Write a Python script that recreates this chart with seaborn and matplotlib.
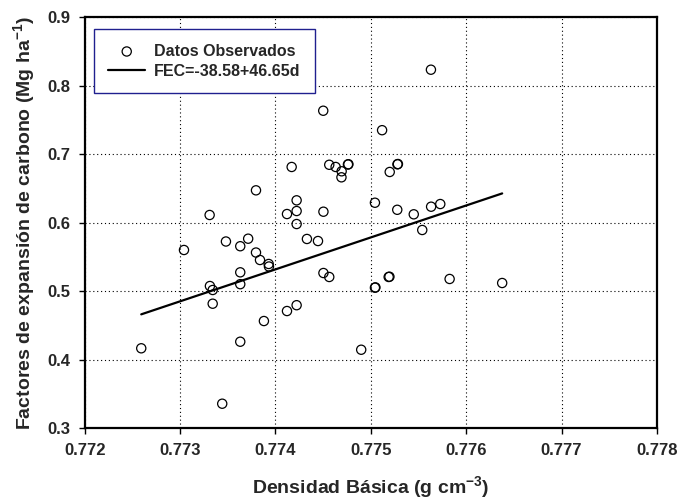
import numpy as np
import pandas as pd
import matplotlib
matplotlib.use("Agg")
import matplotlib.pyplot as plt
import seaborn as sns

densidad = [
    0.772593, 0.773041, 0.773310, 0.773313, 0.773342, 0.773342, 0.773442, 0.773481,
    0.773631, 0.773714, 0.773796, 0.773796, 0.773838, 0.773929, 0.773932, 0.773631,
    0.773631, 0.773631, 0.773879, 0.774121, 0.774170, 0.774222, 0.774222, 0.774222,
    0.774121, 0.774222, 0.774330, 0.774446, 0.774503, 0.774503, 0.774564, 0.774501,
    0.774564, 0.774631, 0.774694, 0.774692, 0.774760, 0.774765, 0.774899, 0.775043,
    0.775043, 0.775048, 0.775118, 0.775198, 0.775279, 0.775284, 0.775277, 0.775187,
    0.775195, 0.775450, 0.775539, 0.775632, 0.775728, 0.775630, 0.775826, 0.776377,
]
fec = [
    0.4168, 0.5603, 0.6114, 0.5077, 0.5019, 0.4819, 0.3359, 0.5727,
    0.5658, 0.5768, 0.6474, 0.5566, 0.5457, 0.5399, 0.5362, 0.5277,
    0.5104, 0.4264, 0.4566, 0.6128, 0.6815, 0.6328, 0.6172, 0.5982,
    0.4712, 0.4797, 0.5764, 0.5734, 0.6162, 0.5267, 0.5209, 0.7636,
    0.6847, 0.6815, 0.6752, 0.6664, 0.6851, 0.6855, 0.4147, 0.6293,
    0.5053, 0.5057, 0.7352, 0.6742, 0.6854, 0.6858, 0.6190, 0.5209,
    0.5213, 0.6124, 0.5895, 0.6235, 0.6274, 0.8235, 0.5180, 0.5121,
]

# Fitted line as drawn in the picture
slope = 46.65
intercept = -35.5751
line_label = "FEC=-38.58+46.65d"
points_label = "Datos Observados"

x_ticks = [0.772, 0.773, 0.774, 0.775, 0.776, 0.777, 0.778]
y_ticks = [0.3, 0.4, 0.5, 0.6, 0.7, 0.8, 0.9]

sns.set_theme(style="white")
plt.rcParams["font.family"] = ["Liberation Sans", "DejaVu Sans"]
plt.rcParams["font.weight"] = "bold"
plt.rcParams["mathtext.fontset"] = "custom"
plt.rcParams["mathtext.rm"] = "Liberation Sans:bold"
plt.rcParams["mathtext.bf"] = "Liberation Sans:bold"
plt.rcParams["mathtext.default"] = "bf"

df = pd.DataFrame({"d": densidad, "fec": fec})
xl = np.array([min(densidad), max(densidad)])
line_df = pd.DataFrame({"d": xl, "fec": intercept + slope * xl})

fig = plt.figure(figsize=(6.78, 5.0), dpi=100)
ax = fig.add_axes([0.1249, 0.1434, 0.969 - 0.1249, 0.9654 - 0.1434])

sns.scatterplot(data=df, x="d", y="fec", ax=ax, marker="o", s=44,
                facecolors="none", edgecolor="black", linewidth=0.9,
                label=points_label, zorder=3)
sns.lineplot(data=line_df, x="d", y="fec", ax=ax, color="black",
             linewidth=1.6, label=line_label, zorder=2)

ax.set_xlim(0.772, 0.778)
ax.set_ylim(0.3, 0.9)
ax.set_xticks(x_ticks)
ax.set_yticks(y_ticks)
ax.set_xticklabels([f"{v:.3f}" for v in x_ticks])
ax.set_yticklabels([f"{v:.1f}" for v in y_ticks])
ax.tick_params(axis="both", which="major", direction="out", length=4.5,
               width=1.0, color="black", labelsize=12, pad=6,
               bottom=True, left=True)
for lab in ax.get_xticklabels() + ax.get_yticklabels():
    lab.set_fontweight("bold")

ax.grid(True, color="black", linestyle=(0, (1, 2.5)), linewidth=0.8)
for sp in ax.spines.values():
    sp.set_color("black")
    sp.set_linewidth(1.6)

ax.set_xlabel("Densidad Básica (g cm$^{-3}$)", fontsize=14, fontweight="bold",
              labelpad=12)
ax.set_ylabel("Factores de expansión de carbono (Mg ha$^{-1}$)", fontsize=14,
              fontweight="bold", labelpad=7)

leg = ax.legend(loc="upper left", bbox_to_anchor=(0.01625, 0.9708),
                borderaxespad=0, fontsize=11.5, frameon=True, fancybox=False,
                edgecolor="#20208f", framealpha=1, handlelength=2.3,
                handletextpad=0.55, borderpad=0.9, labelspacing=0.32)
leg.get_frame().set_linewidth(1.0)
for t in leg.get_texts():
    t.set_fontweight("bold")

fig.savefig("out.png", dpi=100)
